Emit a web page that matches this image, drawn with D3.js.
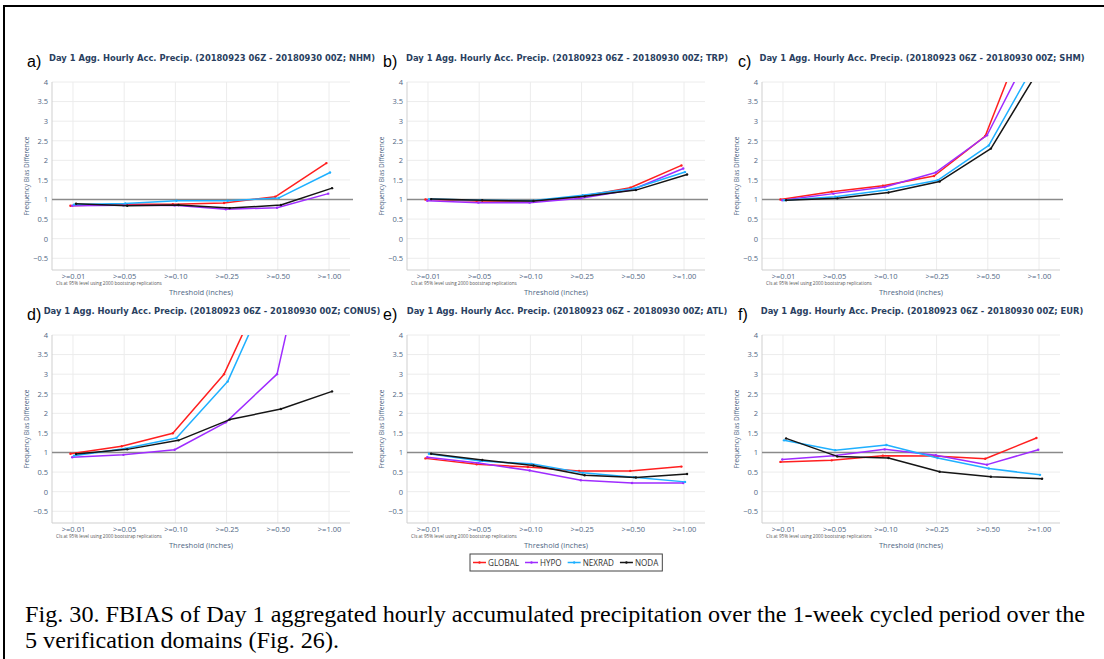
<!DOCTYPE html>
<html>
<head>
<meta charset="utf-8">
<script src="https://cdn.jsdelivr.net/npm/d3@7/dist/d3.min.js"></script>
<style>
  html, body { margin: 0; padding: 0; background: #fff; }
  svg { display: block; }
</style>
</head>
<body>
<svg id="fig" width="1104" height="659"></svg>
<script>
// Threshold categories and tick values
const thresholds = [">=0.01", ">=0.05", ">=0.10", ">=0.25", ">=0.50", ">=1.00"];
const yTicks = [-0.5, 0, 0.5, 1, 1.5, 2, 2.5, 3, 3.5, 4];
const models = ["GLOBAL", "HYPO", "NEXRAD", "NODA"];
const domainNames = ["NHM", "TRP", "SHM", "CONUS", "ATL", "EUR"];
const panelLetters = ["a)", "b)", "c)", "d)", "e)", "f)"];

// Frequency bias per threshold, one array per model and domain
const nhmGlobal = [0.84, 0.88, 0.88, 0.91, 1.07, 1.93];
const nhmHypo   = [0.84, 0.85, 0.85, 0.75, 0.79, 1.15];
const nhmNexrad = [0.87, 0.90, 0.97, 0.97, 1.04, 1.69];
const nhmNoda   = [0.89, 0.84, 0.86, 0.78, 0.86, 1.29];

const trpGlobal = [1.00, 0.96, 0.95, 1.07, 1.30, 1.87];
const trpHypo   = [0.97, 0.92, 0.92, 1.03, 1.25, 1.79];
const trpNexrad = [1.01, 0.98, 0.97, 1.11, 1.28, 1.70];
const trpNoda   = [1.01, 0.98, 0.96, 1.08, 1.24, 1.64];

const shmGlobal = [1.00, 1.20, 1.35, 1.60, 2.62, 5.95];
const shmHypo   = [0.98, 1.15, 1.32, 1.69, 2.64, 5.20];
const shmNexrad = [0.98, 1.07, 1.24, 1.49, 2.38, 4.70];
const shmNoda   = [0.98, 1.03, 1.18, 1.46, 2.30, 4.45];

const conusGlobal = [0.97, 1.16, 1.49, 3.00, 5.82, 6.50];
const conusHypo   = [0.88, 0.94, 1.07, 1.77, 3.00, 8.80];
const conusNexrad = [0.92, 1.10, 1.37, 2.81, 5.72, 6.40];
const conusNoda   = [0.96, 1.08, 1.31, 1.84, 2.11, 2.56];

const atlGlobal = [0.85, 0.70, 0.63, 0.53, 0.53, 0.64];
const atlHypo   = [0.88, 0.73, 0.54, 0.29, 0.22, 0.22];
const atlNexrad = [0.97, 0.78, 0.71, 0.48, 0.37, 0.25];
const atlNoda   = [0.97, 0.81, 0.67, 0.42, 0.36, 0.45];

const eurGlobal = [0.76, 0.80, 0.92, 0.91, 0.84, 1.37];
const eurHypo   = [0.82, 0.92, 1.08, 0.93, 0.69, 1.07];
const eurNexrad = [1.31, 1.06, 1.19, 0.86, 0.59, 0.43];
const eurNoda   = [1.36, 0.90, 0.86, 0.51, 0.38, 0.33];

const panelSeries = [
  [nhmGlobal, nhmHypo, nhmNexrad, nhmNoda],
  [trpGlobal, trpHypo, trpNexrad, trpNoda],
  [shmGlobal, shmHypo, shmNexrad, shmNoda],
  [conusGlobal, conusHypo, conusNexrad, conusNoda],
  [atlGlobal, atlHypo, atlNexrad, atlNoda],
  [eurGlobal, eurHypo, eurNexrad, eurNoda]
];

const captionLines = [
  "Fig. 30. FBIAS of Day 1 aggregated hourly accumulated precipitation over the 1-week cycled period over the",
  "5 verification domains (Fig. 26)."
];

// ---- styling / layout ----
const colors = { GLOBAL: "#ff1f1f", HYPO: "#9f2cff", NEXRAD: "#1fb0ff", NODA: "#151515" };
const dodge = [-0.05, -0.015, 0.02, 0.06];   // small horizontal offset per model (fraction of step)
const colLeft = [52, 407, 762];
const rowTop = [82, 335];
const plotW = 298, plotH = 188;
const titleColor = "#2a3f5f", tickColor = "#506784";
const sans = "'Open Sans', 'DejaVu Sans', sans-serif";
const titleFont = "'DejaVu Sans', Verdana, sans-serif";

const svg = d3.select("#fig");

// outer frame (right and bottom edges run off the page)
svg.append("rect")
  .attr("x", 4).attr("y", 6).attr("width", 1110).attr("height", 670)
  .attr("fill", "none").attr("stroke", "#000").attr("stroke-width", 2);

const x = d3.scalePoint().domain(thresholds).range([0, plotW]).padding(0.41);
const y = d3.scaleLinear().domain([-0.8, 4]).range([plotH, 0]);

// title size: the TRP title spans about 322px
const probe = svg.append("text").style("font-family", titleFont).style("font-weight", "bold")
  .style("font-size", "8px").text("Day 1 Agg. Hourly Acc. Precip. (20180923 06Z - 20180930 00Z; TRP)");
const titleSize = 8 * 322 / probe.node().getComputedTextLength();
probe.remove();

panelSeries.forEach((seriesList, p) => {
  const left = colLeft[p % 3], top = rowTop[Math.floor(p / 3)];
  const g = svg.append("g").attr("transform", `translate(${left},${top})`);

  // grid
  g.append("g").selectAll("line").data(yTicks).join("line")
    .attr("x1", 0).attr("x2", plotW)
    .attr("y1", d => y(d)).attr("y2", d => y(d))
    .attr("stroke", "#ececec").attr("stroke-width", 1);
  g.append("g").selectAll("line").data(thresholds).join("line")
    .attr("x1", d => x(d)).attr("x2", d => x(d))
    .attr("y1", y(4)).attr("y2", plotH)
    .attr("stroke", "#ececec").attr("stroke-width", 1);

  // axes
  const xAxis = g.append("g").attr("transform", `translate(0,${plotH})`)
    .call(d3.axisBottom(x).tickSize(0).tickPadding(4));
  xAxis.select(".domain").attr("stroke", "#cfcfcf").attr("d", `M0,0H${plotW}`);
  xAxis.selectAll("text").attr("fill", tickColor).style("font-family", sans).style("font-size", "7.5px");

  const yAxis = g.append("g")
    .call(d3.axisLeft(y).tickValues(yTicks).tickSize(0).tickPadding(4)
      .tickFormat(d => d < 0 ? "\u2212" + Math.abs(d) : String(d)));
  yAxis.select(".domain").attr("stroke", "#cfcfcf").attr("d", `M0,0V${plotH}`);
  yAxis.selectAll("text").attr("fill", tickColor).style("font-family", sans).style("font-size", "7.5px");

  // reference line at unbiased value
  g.append("line").attr("x1", 0).attr("x2", plotW + 3)
    .attr("y1", y(1)).attr("y2", y(1))
    .attr("stroke", "#8a8a8a").attr("stroke-width", 1.3);

  // series
  const clipId = "clip" + p;
  g.append("clipPath").attr("id", clipId)
    .append("rect").attr("x", -4).attr("y", 0).attr("width", plotW + 8).attr("height", plotH);
  const step = x.step();
  const lines = g.append("g").attr("clip-path", `url(#${clipId})`);
  seriesList.forEach((vals, i) => {
    const pts = vals.map((v, k) => [x(thresholds[k]) + dodge[i] * step, y(v)]);
    lines.append("path")
      .attr("d", d3.line()(pts))
      .attr("fill", "none").attr("stroke", colors[models[i]])
      .attr("stroke-width", 1.5).attr("stroke-linejoin", "round");
    lines.append("g").selectAll("circle").data(pts).join("circle")
      .attr("cx", d => d[0]).attr("cy", d => d[1]).attr("r", 1.2)
      .attr("fill", colors[models[i]]);
  });

  // texts
  g.append("text")
    .attr("transform", `translate(-23,${plotH / 2}) rotate(-90)`)
    .attr("text-anchor", "middle").attr("fill", tickColor)
    .style("font-family", sans).style("font-size", "6.5px")
    .text("Frequency Bias Difference");
  g.append("text").attr("x", 4).attr("y", plotH + 15)
    .attr("fill", "#555").style("font-family", sans).style("font-size", "4.6px")
    .text("CIs at 95% level using 2000 bootstrap replications");
  g.append("text").attr("x", plotW / 2).attr("y", plotH + 25)
    .attr("text-anchor", "middle").attr("fill", tickColor)
    .style("font-family", sans).style("font-size", "7.5px")
    .text("Threshold (inches)");
  g.append("text").attr("x", 160).attr("y", -21)
    .attr("text-anchor", "middle").attr("fill", titleColor)
    .style("font-family", titleFont).style("font-size", titleSize + "px").style("font-weight", "bold")
    .text(`Day 1 Agg. Hourly Acc. Precip. (20180923 06Z - 20180930 00Z; ${domainNames[p]})`);
  g.append("text").attr("x", (p % 3 === 0 ? -25 : -24)).attr("y", -15)
    .attr("fill", "#000").style("font-family", "'Liberation Sans', Arial, sans-serif")
    .style("font-size", "16px")
    .text(panelLetters[p]);
});

// legend
const lg = svg.append("g");
const lgBox = lg.append("rect").attr("x", 470).attr("y", 554).attr("height", 17)
  .attr("fill", "#fff").attr("stroke", "#444").attr("stroke-width", 1);
let cx = 473;
models.forEach(m => {
  lg.append("line").attr("x1", cx).attr("x2", cx + 13).attr("y1", 562.5).attr("y2", 562.5)
    .attr("stroke", colors[m]).attr("stroke-width", 1.5);
  lg.append("circle").attr("cx", cx + 6.5).attr("cy", 562.5).attr("r", 1.2).attr("fill", colors[m]);
  const t = lg.append("text").attr("x", cx + 15).attr("y", 565.5)
    .attr("fill", "#333").style("font-family", sans).style("font-size", "8.1px").text(m);
  cx += 15 + t.node().getComputedTextLength() + 6;
});
lgBox.attr("width", cx - 470 - 2);

// caption: condensed Times-style text
const cap = svg.append("g").style("font-family", "'Liberation Serif', 'Times New Roman', serif")
  .style("font-size", "22.5px").attr("fill", "#000");
const c1 = cap.append("text").attr("x", 25).attr("y", 621.5).text(captionLines[0]);
const c2 = cap.append("text").attr("x", 25).attr("y", 648).text(captionLines[1]);
const squeeze = 1060 / c1.node().getComputedTextLength();
[c1, c2].forEach(t => {
  t.attr("textLength", t.node().getComputedTextLength() * squeeze)
   .attr("lengthAdjust", "spacingAndGlyphs");
});
</script>
</body>
</html>
